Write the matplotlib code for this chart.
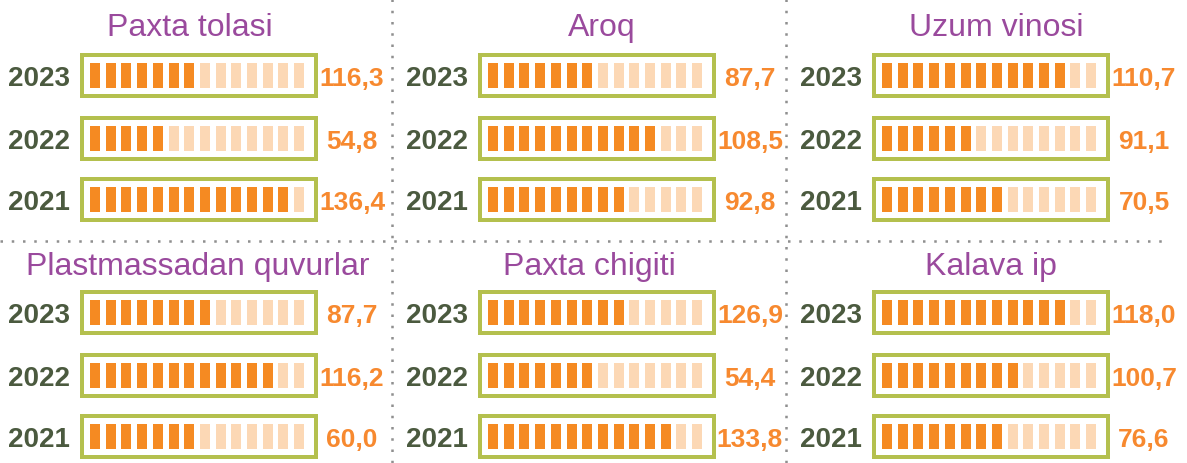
import matplotlib.pyplot as plt
from matplotlib.patches import Rectangle

titles = ['Paxta tolasi', 'Aroq', 'Uzum vinosi',
          'Plastmassadan quvurlar', 'Paxta chigiti', 'Kalava ip']
years = ['2023', '2022', '2021']
values = [[116.3, 54.8, 136.4],
          [87.7, 108.5, 92.8],
          [110.7, 91.1, 70.5],
          [87.7, 116.2, 60.0],
          [126.9, 54.4, 133.8],
          [118.0, 100.7, 76.6]]
# number of dark segments (out of 14) in each gauge
filled = [[7, 5, 13],
          [7, 11, 9],
          [12, 6, 8],
          [8, 12, 7],
          [9, 7, 12],
          [12, 9, 8]]
n_seg = 14

plt.rcParams['font.family'] = ['Liberation Sans', 'DejaVu Sans']

dark = '#F58A22'
light = '#FCD8B5'
border = '#B4C04E'
val_col = '#F7892F'
year_col = '#4B5A3F'
title_col = '#9A4A9D'

fig = plt.figure(figsize=(11.87, 4.64), dpi=100)
ax = fig.add_axes([0, 0, 1, 1])
ax.set_xlim(0, 1187)
ax.set_ylim(464, 0)
ax.axis('off')

col_x = [80, 478, 872]          # left edge of boxes per column
row_y = [[76, 139, 200], [313, 376, 437]]  # row centres, top / bottom panels
title_y = [36, 275]
title_dx = [-9, 5, 5, -1, -8, 0]
box_w, box_h = 238, 45
seg_w, seg_pitch, seg_h = 10, 15.7, 25
px = 72 / 100  # pixels -> points

for i, title in enumerate(titles):
    r, c = divmod(i, 3)
    x0 = col_x[c]
    ax.text(x0 + box_w / 2 + title_dx[i], title_y[r], title, color=title_col,
            fontsize=23, ha='center', va='baseline')
    for j, yr in enumerate(years):
        yc = row_y[r][j]
        ax.add_patch(Rectangle((x0 + 2, yc - box_h / 2 + 2), box_w - 4, box_h - 4,
                               facecolor='white', edgecolor=border, lw=4 * px))
        lefts = [x0 + 10 + k * seg_pitch for k in range(n_seg)]
        cols = [dark if k < filled[i][j] else light for k in range(n_seg)]
        ax.bar(lefts, seg_h, width=seg_w, bottom=yc - seg_h / 2,
               color=cols, align='edge', edgecolor='none')
        ax.text(x0 - 41, yc + 10, yr, color=year_col, fontsize=20,
                fontweight='bold', ha='center', va='baseline')
        ax.text(x0 + box_w + 34, yc + 10, f'{values[i][j]:.1f}'.replace('.', ','),
                color=val_col, fontsize=19, fontweight='bold',
                ha='center', va='baseline')

# dotted separators
ls = (0, (1, 3.5))
ax.plot([392, 392], [0, 464], color='#8F8F8F', lw=1.8, ls=ls)
ax.plot([786, 786], [0, 464], color='#8F8F8F', lw=1.8, ls=ls)
ax.plot([0, 1170], [242, 242], color='#8F8F8F', lw=1.8, ls=ls)

fig.savefig('out.png', dpi=100)
